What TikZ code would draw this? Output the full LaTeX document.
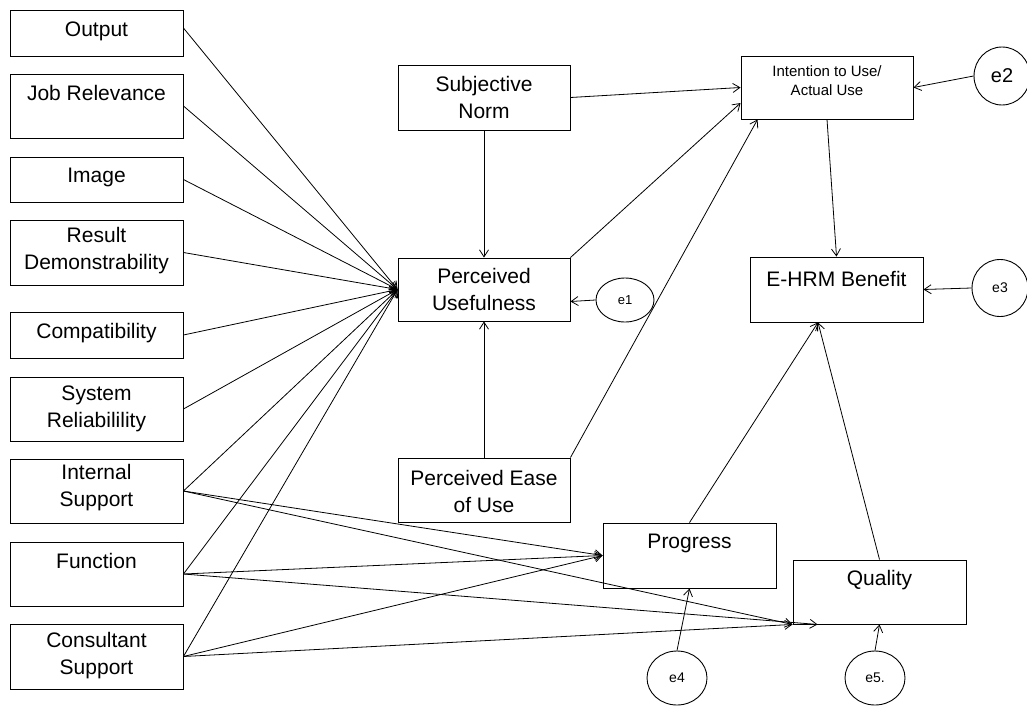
\documentclass[tikz,border=0pt]{standalone}
\usepackage{fontspec}
\setmainfont{Liberation Sans}
\usetikzlibrary{arrows.meta,shapes.geometric}
\tikzset{
  box/.style={draw, line width=0.9pt, minimum width=173pt, inner sep=0pt},
  lbl/.style={font=\fontsize{21}{27}\selectfont, align=center, inner sep=0pt},
  slbl/.style={font=\fontsize{15}{19}\selectfont, align=center, inner sep=0pt},
  err/.style={draw, ellipse, line width=0.9pt, inner sep=0pt},
  con/.style={line width=0.8pt, -{Straight Barb[length=7pt,width=9pt,line width=0.8pt]}},
}
\begin{document}
\begin{tikzpicture}[x=1pt,y=-1pt]
\useasboundingbox (0,0) rectangle (1027,706);
% left boxes
\node[box, minimum height=46pt] (out) at (96.5,33) {};
\node[lbl] (tout) at (96.5,31) {Output};
\node[box, minimum height=64pt] (job) at (96.5,106) {};
\node[lbl] (tjob) at (96.5,93) {Job Relevance};
\node[box, minimum height=45pt] (img) at (96.5,179.5) {};
\node[lbl] (timg) at (96.5,177) {Image};
\node[box, minimum height=65pt] (res) at (96.5,252.5) {};
\node[lbl] (tres) at (96.5,251) {Result\\Demonstrability};
\node[box, minimum height=46pt] (comp) at (96.5,335) {};
\node[lbl] (tcomp) at (96.5,333) {Compatibility};
\node[box, minimum height=64pt] (sys) at (96.5,409) {};
\node[lbl] (tsys) at (96.5,409) {System\\Reliabilility};
\node[box, minimum height=64pt] (isup) at (96.5,491) {};
\node[lbl] (tisup) at (96.5,488) {Internal\\Support};
\node[box, minimum height=64pt] (func) at (96.5,574) {};
\node[lbl] (tfunc) at (96.5,561) {Function};
\node[box, minimum height=65pt] (cons) at (96.5,656.5) {};
\node[lbl] (tcons) at (96.5,656) {Consultant\\Support};
% middle
\node[box, minimum width=172pt, minimum height=65pt] (sn) at (484,97.5) {};
\node[lbl] (tsn) at (484,97) {Subjective\\Norm};
\node[box, minimum width=172pt, minimum height=63pt] (pu) at (484,289.5) {};
\node[lbl] (tpu) at (484,289) {Perceived\\Usefulness};
\node[box, minimum width=172pt, minimum height=64pt] (peou) at (484,490) {};
\node[lbl] (tpeou) at (484,491) {Perceived Ease\\of Use};
% right
\node[box, minimum width=172pt, minimum height=63pt] (int) at (827,87.5) {};
\node[slbl] (tint) at (827,81) {Intention to Use/\\Actual Use};
\node[box, minimum height=65pt] (ehrm) at (836.5,289.5) {};
\node[lbl] (tehrm) at (836.5,279) {E-HRM Benefit};
\node[box, minimum height=65pt] (prog) at (689.5,555.5) {};
\node[lbl] (tprog) at (689.5,543) {Progress};
\node[box, minimum height=64pt] (qual) at (879.5,592) {};
\node[lbl] (tqual) at (879.5,580) {Quality};
% error terms
\node[err, minimum width=58pt, minimum height=44pt, font=\fontsize{13}{15}\selectfont] (e1) at (625,300) {e1};
\node[err, minimum width=56pt, minimum height=58pt, font=\fontsize{20}{22}\selectfont] (e2) at (1002,76) {e2};
\node[err, minimum width=56pt, minimum height=57pt, font=\fontsize{14}{16}\selectfont] (e3) at (1000,288) {e3};
\node[err, minimum width=60pt, minimum height=54pt, font=\fontsize{14}{16}\selectfont] (e4) at (677,678) {e4};
\node[err, minimum width=60pt, minimum height=54pt, font=\fontsize{14}{16}\selectfont] (e5) at (875,678) {e5.};
% connectors to PU
\draw[con] ([yshift=5pt]out.east) -- (pu.west);
\draw[con] (job.east) -- (pu.west);
\draw[con] (img.east) -- (pu.west);
\draw[con] (res.east) -- (pu.west);
\draw[con] (comp.east) -- (pu.west);
\draw[con] (sys.east) -- (pu.west);
\draw[con] (isup.east) -- (pu.west);
\draw[con] (func.east) -- (pu.west);
\draw[con] (cons.east) -- (pu.west);
% to progress / quality
\draw[con] (isup.east) -- (prog.west);
\draw[con] (func.east) -- (prog.west);
\draw[con] (cons.east) -- (prog.west);
\draw[con] (isup.east) -- (qual.south west);
\draw[con] (func.east) -- ([xshift=25pt]qual.south west);
\draw[con] (cons.east) -- (qual.south west);
% middle connectors
\draw[con] (sn.south) -- (pu.north);
\draw[con] (peou.north) -- (pu.south);
\draw[con] (sn.east) -- (int.west);
\draw[con] (pu.north east) -- ([yshift=-15.5pt]int.west);
\draw[con] (peou.north east) -- ([xshift=17pt]int.south west);
\draw[con] (int.south) -- (ehrm.north);
\draw[con] (e1.west) -- ([yshift=-12pt]pu.east);
\draw[con] (e2.west) -- (int.east);
\draw[con] (e3.west) -- (ehrm.east);
\draw[con] (prog.north) -- ([xshift=-18.5pt]ehrm.south);
\draw[con] (qual.north) -- ([xshift=-18.5pt]ehrm.south);
\draw[con] (e4.north) -- (prog.south);
\draw[con] (e5.north) -- (qual.south);
\end{tikzpicture}
\end{document}
